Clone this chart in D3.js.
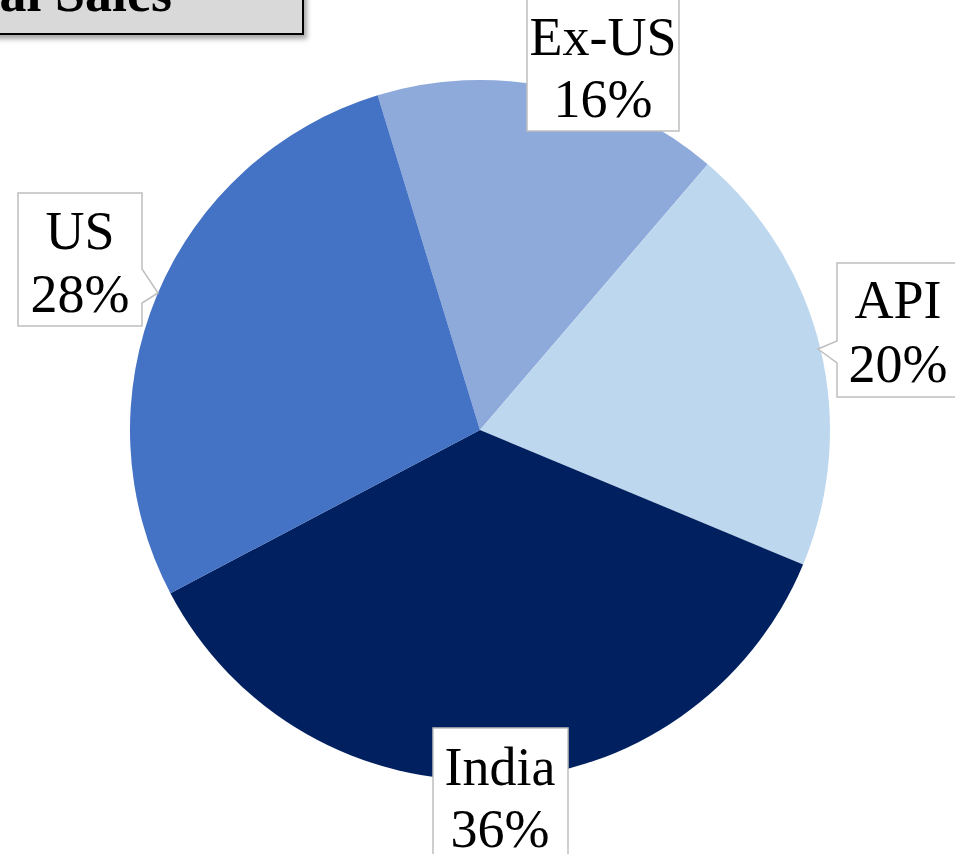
<!DOCTYPE html>
<html><head><meta charset="utf-8">
<script src="https://cdn.jsdelivr.net/npm/d3@7"></script>
<style>html,body{margin:0;padding:0;background:#fff;overflow:hidden}</style>
</head><body>
<script>
const categories = ["Ex-US", "API", "India", "US"];
const values = [16, 20, 36, 28];
const colors = ["#8eaadb", "#bdd7ee", "#002060", "#4472c4"];
const titleText = "Total Sales";

// layout of callout boxes (x, y, w, h) and optional pointer
const boxes = {
  "Ex-US": {x: 527, y: -10, w: 152, h: 141, cx: 603, b1: 55, b2: 117},
  "API":   {x: 837, y: 263, w: 140, h: 134, cx: 898, b1: 318, b2: 382, ptr: {side: "left", y0: 341, y1: 363, tx: 818, ty: 349}},
  "India": {x: 433, y: 728, w: 135, h: 150, cx: 500, b1: 785, b2: 847},
  "US":    {x: 18, y: 193, w: 124, h: 133, cx: 80, b1: 249, b2: 312, ptr: {side: "right", y0: 269, y1: 303, tx: 158, ty: 293}}
};

const W = 955, H = 854;
const svg = d3.select("body").append("svg").attr("width", W).attr("height", H);
const defs = svg.append("defs");
const f = defs.append("filter").attr("id", "shadow").attr("x", "-20%").attr("y", "-50%").attr("width", "150%").attr("height", "200%");
f.append("feDropShadow").attr("dx", 3).attr("dy", 4).attr("stdDeviation", 2.5).attr("flood-color", "#000").attr("flood-opacity", 0.35);

const cx = 480, cy = 430, r = 350;
const start = -17 * Math.PI / 180;
const pie = d3.pie().sort(null).startAngle(start).endAngle(start + 2 * Math.PI);
const arcs = pie(values);
const arc = d3.arc().innerRadius(0).outerRadius(r);
const g = svg.append("g").attr("transform", `translate(${cx},${cy})`);
g.selectAll("path").data(arcs).join("path")
  .attr("d", arc).attr("fill", (d, i) => colors[i]).attr("stroke", "none");

// callouts
categories.forEach((c, i) => {
  const b = boxes[c];
  let p;
  const x0 = b.x, y0 = b.y, x1 = b.x + b.w, y1 = b.y + b.h;
  if (b.ptr && b.ptr.side === "right") {
    p = `M${x0},${y0}H${x1}V${b.ptr.y0}L${b.ptr.tx},${b.ptr.ty}L${x1},${b.ptr.y1}V${y1}H${x0}Z`;
  } else if (b.ptr && b.ptr.side === "left") {
    p = `M${x0},${y0}H${x1}V${y1}H${x0}V${b.ptr.y1}L${b.ptr.tx},${b.ptr.ty}L${x0},${b.ptr.y0}Z`;
  } else {
    p = `M${x0},${y0}H${x1}V${y1}H${x0}Z`;
  }
  svg.append("path").attr("d", p).attr("fill", "#fff").attr("stroke", "#bfbfbf").attr("stroke-width", 1.5);
  const t = svg.append("text").attr("text-anchor", "middle")
    .attr("font-family", "'Liberation Serif', 'DejaVu Serif', serif").attr("font-size", 54).attr("fill", "#000");
  t.append("tspan").attr("x", b.cx).attr("y", b.b1).text(c);
  t.append("tspan").attr("x", b.cx).attr("y", b.b2).text(values[i] + "%");
});

// title box (partially off-canvas)
const tg = svg.append("g");
tg.append("rect").attr("x", -20).attr("y", -40).attr("width", 323).attr("height", 74)
  .attr("fill", "#d9d9d9").attr("stroke", "#000").attr("stroke-width", 2).attr("filter", "url(#shadow)");
tg.append("text").attr("x", 172).attr("y", 11).attr("text-anchor", "end")
  .attr("font-family", "'Liberation Serif', serif").attr("font-weight", "bold").attr("font-size", 54)
  .attr("fill", "#000").text(titleText);
</script>
</body></html>
